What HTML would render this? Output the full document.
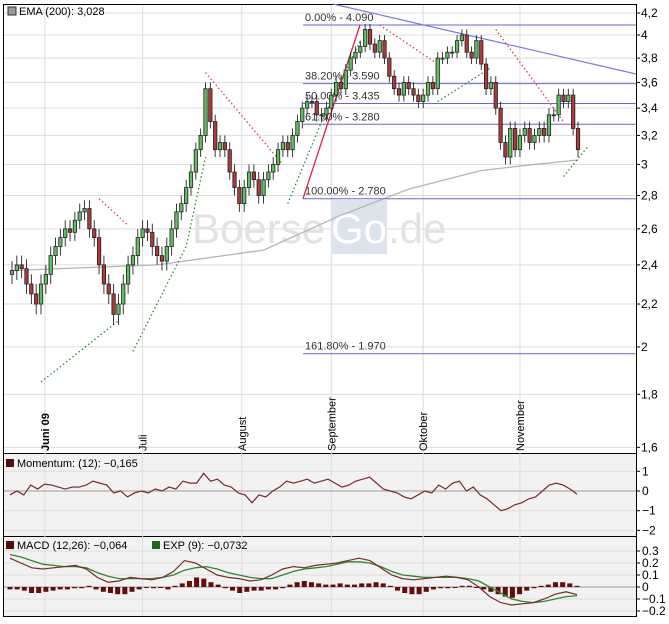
<!DOCTYPE html>
<html><head><meta charset="utf-8"><style>
body{margin:0;background:#fff;}
svg{display:block;font-family:"Liberation Sans",sans-serif;}
</style></head><body>
<svg id="c" width="669" height="624"></svg>
<script>
// ---- data ----
const priceTicks=[4.2,4,3.8,3.6,3.4,3.2,3,2.8,2.6,2.4,2.2,2,1.8,1.6];
const priceTickLabels=["4,2","4","3,8","3,6","3,4","3,2","3","2,8","2,6","2,4","2,2","2","1,8","1,6"];
const months=["Juni 09","Juli","August","September","Oktober","November"];
const monthDayIndex=[6.8,27,47.5,66,85,105];
const closes=[2.37,2.4,2.38,2.3,2.25,2.2,2.3,2.35,2.45,2.5,2.55,2.6,2.58,2.65,2.7,2.72,2.6,2.55,2.4,2.3,2.25,2.15,2.2,2.3,2.4,2.45,2.55,2.6,2.58,2.5,2.45,2.42,2.5,2.6,2.7,2.75,2.85,2.95,3.1,3.2,3.55,
3.3,3.1,3.15,3.1,2.95,2.85,2.75,2.85,2.95,2.9,2.8,2.9,2.95,3.0,3.1,3.15,3.1,3.2,3.3,3.4,3.45,3.45,3.35,
3.35,3.4,3.5,3.6,3.55,3.7,3.8,3.85,3.9,4.05,3.92,3.85,3.95,3.8,3.65,3.55,3.5,3.6,3.55,3.5,3.45,3.5,3.6,3.55,3.8,3.8,3.85,3.85,3.95,4.0,3.85,3.8,3.95,3.75,3.55,3.6,3.4,3.15,3.05,3.25,3.1,3.2,3.25,3.15,3.2,3.25,3.2,3.35,3.35,3.5,3.45,3.5,3.25,3.1];
const opens=[2.35].concat(closes.slice(0,-1));
const emaDays=[0,30,52,68,82,97,108,117];
const emaVals=[2.37,2.4,2.48,2.68,2.84,2.96,3.0,3.03];
const sarRedA=[[18,2.78],[24,2.62]];
const sarRedB=[[40,3.68],[56,3.0]];
const sarRedC=[[76,4.09],[88,3.75]];
const sarRedD=[[100,4.05],[114,3.3]];
const sarGreenA=[[6,1.85],[22,2.12]];
const sarGreenB=[[25,1.98],[36,2.5],[40,3.05]];
const sarGreenC=[[57,2.75],[64,3.3],[72,3.95]];
const sarGreenD=[[88,3.45],[99,3.72]];
const sarGreenE=[[114,2.92],[119,3.12]];
const fibLevels=[4.09,3.59,3.435,3.28,2.78,1.97];
const fibLabels=["0.00% - 4.090","38.20% - 3.590","50.00% - 3.435","61.80% - 3.280","100.00% - 2.780","161.80% - 1.970"];
const momentum=[-0.2,0.0,-0.2,0.3,0.1,0.35,0.3,0.2,0.1,0.2,0.2,0.3,0.5,0.4,0.3,-0.1,0,-0.3,-0.1,0,-0.1,0.1,0,0.2,0.1,0.5,0.4,0.4,0.9,0.5,0.6,0.3,0.2,-0.1,-0.2,-0.6,-0.2,-0.3,0,0.2,0.5,0.4,0.5,0.6,0.4,0.5,0.6,0.4,0.2,0.3,0.5,0.6,0.7,0.4,0.1,0.0,-0.1,-0.3,-0.4,-0.2,0.0,-0.1,0.3,0.1,0.4,0.5,0.0,0.2,-0.2,-0.4,-0.7,-1.0,-0.9,-0.7,-0.6,-0.4,-0.3,0,0.3,0.4,0.3,0.1,-0.165];
const momTicks=[1,0,-1,-2];
const macd=[0.24,0.2,0.16,0.15,0.16,0.17,0.18,0.15,0.08,0.04,0.05,0.08,0.07,0.06,0.08,0.13,0.22,0.2,0.15,0.1,0.08,0.07,0.05,0.06,0.1,0.15,0.17,0.16,0.18,0.19,0.2,0.22,0.24,0.22,0.16,0.1,0.07,0.06,0.07,0.08,0.09,0.08,0.06,0.0,-0.08,-0.13,-0.15,-0.14,-0.13,-0.1,-0.06,-0.04,-0.064];
const signal=[0.27,0.25,0.22,0.19,0.18,0.17,0.17,0.16,0.12,0.09,0.07,0.07,0.07,0.07,0.08,0.1,0.14,0.16,0.17,0.15,0.12,0.1,0.08,0.07,0.07,0.1,0.13,0.15,0.16,0.17,0.19,0.21,0.21,0.2,0.17,0.13,0.1,0.09,0.08,0.08,0.08,0.08,0.07,0.05,0.0,-0.05,-0.1,-0.12,-0.13,-0.12,-0.1,-0.08,-0.0732];
const hist=[-0.02,-0.02,-0.03,-0.05,-0.05,-0.04,-0.03,-0.02,-0.02,-0.01,-0.01,0.01,-0.02,-0.04,-0.05,-0.06,-0.06,-0.04,-0.02,0,-0.01,0,-0.02,0.01,0.03,0.05,0.08,0.07,0.04,0.02,-0.01,-0.03,-0.05,-0.04,-0.03,-0.03,-0.02,-0.02,-0.01,0.02,0.04,0.05,0.04,0.03,0.02,0.02,0.03,0.02,0.02,0.03,0.03,0.04,0.03,0.01,-0.03,-0.05,-0.06,-0.06,-0.04,-0.02,-0.01,-0.01,0,0.01,0.01,0,-0.02,-0.04,-0.06,-0.08,-0.09,-0.06,-0.03,-0.01,0.01,0.02,0.04,0.04,0.03,0.01];
const macdTicks=[0.3,0.2,0.1,0,-0.1,-0.2];
const macdTickLabels=["0.3","0.2","0.1","0","-0.1","-0.2"];

// ---- scales ----
const svg=document.getElementById('c');
const NS='http://www.w3.org/2000/svg';
const X0=12,X1=578;
const xDay=i=>X0+i*(X1-X0)/(closes.length-1);
const yP=v=>35-450*Math.log(v/4);
const yM=v=>491-19.7*v;
const yD=v=>587-120*v;
function el(tag,attrs,parent){const e=document.createElementNS(NS,tag);for(const k in attrs)e.setAttribute(k,attrs[k]);(parent||svg).appendChild(e);return e;}
function txt(s,x,y,attrs){const t=el('text',Object.assign({x:x,y:y,'font-size':11,fill:'#000'},attrs||{}));t.textContent=s;return t;}

// panels
const main=el('rect',{x:3.5,y:4.5,width:633,height:449,fill:'#fff',stroke:'#000'});


const mp=el('rect',{x:3.5,y:453.5,width:633,height:83,fill:'#f2f2f2',stroke:'#000'});


const dp=el('rect',{x:3.5,y:536.5,width:633,height:80,fill:'#f2f2f2',stroke:'#000'});



// price grid + ticks
priceTicks.forEach((v,i)=>{const y=yP(v);
 el('line',{x1:4,x2:636,y1:y,y2:y,stroke:'#ddd'});
 el('line',{x1:636,x2:640,y1:y,y2:y,stroke:'#000'});
 const t=txt(priceTickLabels[i],641,y+4,{'font-size':12});
 
 });
monthDayIndex.forEach((d,i)=>{const x=xDay(d);
 el('line',{x1:x,x2:x,y1:5,y2:616,stroke:'#ddd'});
 const t=txt(months[i],0,0,{transform:`translate(${x+4},451) rotate(-90)`,'font-size':11,'font-weight':i==0?'bold':'normal'});
 
 });

// watermark
const wm=txt('Boerse',192,243,{'font-size':42,fill:'#e2e2e2'});


el('rect',{x:331,y:200,width:56,height:54,fill:'#dde3ea'});
txt('Go',331,243,{'font-size':42,fill:'#fff'});
txt('.de',388,243,{'font-size':42,fill:'#e2e2e2'});

// EMA
const emaPath=emaDays.map((d,i)=>(i?'L':'M')+xDay(d)+' '+yP(emaVals[i])).join(' ');
const ema=el('path',{d:emaPath,fill:'none',stroke:'#b5b5b5','stroke-width':1.3});



// fib
fibLevels.forEach((v,i)=>{const y=yP(v);
 const l=el('line',{x1:303,x2:636,y1:y,y2:y,stroke:'#6666dd'});
 
 
 const t=txt(fibLabels[i],305,y-4,{'font-size':11,fill:'#333'});
 
 });
const fr=el('line',{x1:303,y1:yP(2.78),x2:360,y2:yP(4.09),stroke:'#e02040','stroke-width':1.3});


const tl=el('line',{x1:333,y1:4,x2:636,y2:74,stroke:'#7777ee','stroke-width':1.2});



// SAR
[[sarRedA,'#d04050'],[sarRedB,'#d04050'],[sarRedC,'#d04050'],[sarRedD,'#d04050'],[sarGreenA,'#2a8a2a'],[sarGreenB,'#2a8a2a'],[sarGreenC,'#2a8a2a'],[sarGreenD,'#2a8a2a'],[sarGreenE,'#2a8a2a']].forEach(([pts,c])=>{
 const p=el('path',{d:pts.map((q,i)=>(i?'L':'M')+xDay(q[0])+' '+yP(q[1])).join(' '),fill:'none',stroke:c,'stroke-width':1.3,'stroke-dasharray':'1.5 2.5'});
 
 });

// candles
closes.forEach((c,i)=>{const o=opens[i],x=xDay(i);
 const hi=Math.max(o,c)+0.05,lo=Math.min(o,c)-0.05;
 el('line',{x1:x,x2:x,y1:yP(hi),y2:yP(lo),stroke:'#222','stroke-width':0.9});
 const top=yP(Math.max(o,c)),bot=yP(Math.min(o,c));
 const r=el('rect',{x:x-1.7,y:top,width:3.4,height:Math.max(1,bot-top),fill:c>=o?'#5cc05c':'#b03838',stroke:'#222','stroke-width':0.8});
 
 });

// legend main
el('rect',{x:8,y:7,width:8,height:8,fill:'#999',stroke:'#333'});
const lg=txt('EMA (200): 3,028',19,15,{'font-size':11});



// momentum
momTicks.forEach(v=>{const y=yM(v);
 el('line',{x1:4,x2:636,y1:y,y2:y,stroke:v==0?'#999':'#ddd'});
 el('line',{x1:636,x2:640,y1:y,y2:y,stroke:'#000'});
 const t=txt(String(v).replace('-','−'),642,y+4,{'font-size':12});
 
 });
const mx=i=>10+i*(577-10)/(momentum.length-1);
const ml=el('path',{d:momentum.map((v,i)=>(i?'L':'M')+mx(i)+' '+yM(v)).join(' '),fill:'none',stroke:'#7a2a2a','stroke-width':1.2});


el('rect',{x:6,y:459,width:8,height:8,fill:'#5a0a0a'});
const ml2=txt('Momentum: (12): −0,165',17,467,{'font-size':11});



// macd
macdTicks.forEach((v,i)=>{const y=yD(v);
 el('line',{x1:4,x2:636,y1:y,y2:y,stroke:v==0?'#999':'#ddd'});
 el('line',{x1:636,x2:640,y1:y,y2:y,stroke:'#000'});
 const t=txt(macdTickLabels[i].replace('-','−'),642,y+4,{'font-size':12});
 
 });
const hx=i=>10+i*(577-10)/(hist.length-1);
hist.forEach((v,i)=>{const y0=yD(0),y1=yD(v);
 const b=el('rect',{x:hx(i)-2.5,y:Math.min(y0,y1),width:5,height:Math.max(1,Math.abs(y1-y0)),fill:'#6a0a0a'});
 
 });
const dx=(arr)=>i=>10+i*(577-10)/(arr.length-1);
const sg=el('path',{d:signal.map((v,i)=>(i?'L':'M')+dx(signal)(i)+' '+yD(v)).join(' '),fill:'none',stroke:'#2a8a2a','stroke-width':1.3});


const mc=el('path',{d:macd.map((v,i)=>(i?'L':'M')+dx(macd)(i)+' '+yD(v)).join(' '),fill:'none',stroke:'#7a2a2a','stroke-width':1.2});


el('rect',{x:6,y:541,width:8,height:8,fill:'#5a0a0a'});
const l1=txt('MACD (12,26): −0,064',17,549,{'font-size':11});


el('rect',{x:152,y:541,width:8,height:8,fill:'#1a6a1a'});
const l2=txt('EXP (9): −0,0732',163,549,{'font-size':11});


</script>
</body></html>
